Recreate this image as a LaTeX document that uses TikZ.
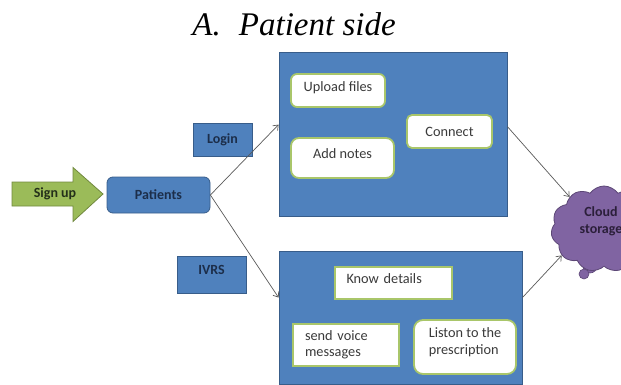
\documentclass[tikz,border=0pt]{standalone}
\usepackage{fontspec}
\setmainfont{Carlito}
\newfontfamily\titlefont{Liberation Serif}
\usetikzlibrary{arrows.meta,shapes.symbols}
\definecolor{boxblue}{HTML}{4F81BD}
\definecolor{boxedge}{HTML}{385D8A}
\definecolor{glow}{HTML}{A9C66A}
\definecolor{darkgreen}{HTML}{71893F}
\definecolor{signgreen}{HTML}{9BBB59}
\definecolor{purplefill}{HTML}{8064A2}
\definecolor{purpleedge}{HTML}{5C4776}
\definecolor{navytext}{HTML}{1C2E4A}
\definecolor{graytext}{HTML}{3A3A3A}
\definecolor{linegray}{HTML}{595959}
\definecolor{cloudtext}{HTML}{2B1F3A}
\definecolor{signtext}{HTML}{24301A}
\begin{document}
\begin{tikzpicture}[x=1pt,y=-1pt,
  bigbox/.style={draw=boxedge, fill=boxblue, line width=0.8pt, inner sep=0pt},
  smallblue/.style={draw=boxedge, fill=boxblue, line width=0.8pt, inner sep=0pt,
    font=\fontsize{14}{16}\selectfont\bfseries, text=navytext},
  whitebox/.style={draw=glow, fill=white, line width=1.8pt, inner sep=0pt,
    font=\fontsize{14.3}{16.5}\selectfont, text=graytext},
  conn/.style={draw=linegray, line width=0.7pt, -{Straight Barb[length=4.5pt,width=7pt]}},
]
\useasboundingbox (0,0) rectangle (621,385);
\clip (0,0) rectangle (621,385);

% title
\node[font=\titlefont\itshape\fontsize{33}{36}\selectfont, anchor=base] (title) at (294,36) {A.\hspace{0.55em}Patient side};

% containers
\node[bigbox, minimum width=228pt, minimum height=164pt] (topbox) at (393,134) {};
\node[bigbox, minimum width=243pt, minimum height=133pt] (botbox) at (400.5,317.5) {};

% top container contents
\node[whitebox, rounded corners=6pt, minimum width=94pt, minimum height=33pt, text height=10pt, text depth=7pt] (upload) at (338,90.5) {Upload files};
\node[whitebox, rounded corners=8pt, minimum width=103pt, minimum height=40pt, text height=10pt, text depth=10pt] (notes) at (342.5,158) {Add notes};
\node[whitebox, rounded corners=5pt, minimum width=85pt, minimum height=33pt] (connect) at (449.5,131.5) {Connect};

% bottom container contents
\node[whitebox, minimum width=117pt, minimum height=32pt, text width=94pt, inner xsep=11.5pt, align=left, text height=10pt, text depth=10pt] (know) at (393.5,283) {Know details};
\node[whitebox, minimum width=106pt, minimum height=42pt, text width=82pt, inner xsep=12pt, align=left] (voice) at (346,345) {send voice\\messages};
\node[whitebox, rounded corners=9pt, minimum width=102pt, minimum height=54pt, align=left, text depth=12pt] (liston) at (465,347) {Liston to the\\prescription};

% blue labels
\node[smallblue, minimum width=59pt, minimum height=33pt] (login) at (222.5,139.5) {Login};
\node[smallblue, rounded corners=6pt, minimum width=103pt, minimum height=36pt] (patients) at (158.5,195) {Patients};
\node[smallblue, minimum width=69pt, minimum height=37pt, text height=10pt, text depth=10pt] (ivrs) at (211.5,274.5) {IVRS};

% sign up arrow
\path[draw=darkgreen, fill=signgreen, line width=0.8pt]
  (12,182) -- (73,182) -- (73,167.5) -- (103,194) -- (73,221.5) -- (73,206) -- (12,206) -- cycle;
\node[font=\fontsize{14}{16}\selectfont\bfseries, text=signtext] (signup) at (55,194) {Sign up};

% cloud
\fill[purplefill, draw=purpleedge, line width=0.6pt] (590,266) circle (7pt);
\fill[purplefill, draw=purpleedge, line width=0.6pt] (584,274) circle (5pt);
\node[cloud, cloud puffs=11, cloud puff arc=110, draw=purpleedge, fill=purplefill, line width=0.8pt,
  minimum width=106pt, minimum height=86pt, inner sep=0pt] (cloud) at (604,229) {};
\node[font=\fontsize{14}{17}\selectfont\bfseries, text=cloudtext, align=center] (cloudlbl) at (601,221) {Cloud\\storage};

% connectors
\draw[conn] (patients.east) -- ([yshift=-73pt]topbox.north west);
\draw[conn] (patients.east) -- ([yshift=-47pt]botbox.north west);
\draw[conn] ([yshift=-75pt]topbox.north east) -- (cloud.137);
\draw[conn] ([yshift=-47pt]botbox.north east) -- (cloud.212);
\end{tikzpicture}
\end{document}
